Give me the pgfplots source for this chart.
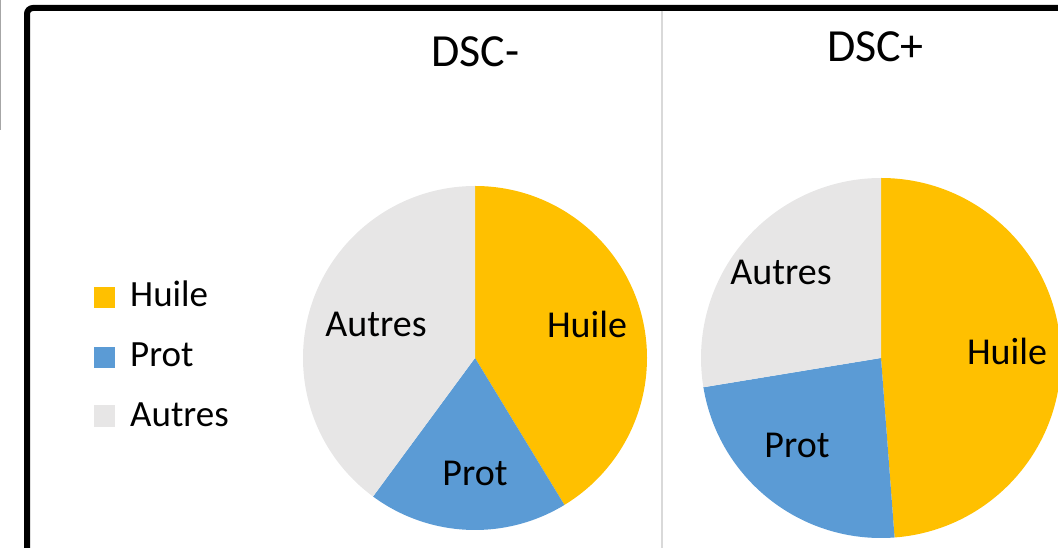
\documentclass[border=0pt]{standalone}
\usepackage{pgfplots}
\pgfplotsset{compat=1.18}
\usepackage{pgfplotstable}
\usepackage{fontspec}
\setmainfont{Carlito}
\definecolor{huile}{HTML}{FFC000}
\definecolor{prot}{HTML}{5B9BD5}
\definecolor{autres}{HTML}{E7E6E6}
\definecolor{divider}{HTML}{D9D9D9}

% DSC- values (percent)
\pgfplotstableread{
cat value
Huile 41.3
Prot 18.8
Autres 39.9
}\dscmoins
% DSC+ values (percent)
\pgfplotstableread{
cat value
Huile 48.8
Prot 23.6
Autres 27.6
}\dscplus

\newcommand{\getv}[3]{\pgfplotstablegetelem{#2}{value}\of#1\let#3\pgfplotsretval}

\begin{document}
\begin{tikzpicture}
\getv{\dscmoins}{0}{\mA}\getv{\dscmoins}{1}{\mB}\getv{\dscmoins}{2}{\mC}
\getv{\dscplus}{0}{\pA}\getv{\dscplus}{1}{\pB}\getv{\dscplus}{2}{\pC}
\pgfmathsetmacro{\mangA}{90-3.6*\mA}
\pgfmathsetmacro{\mangB}{\mangA-3.6*\mB}
\pgfmathsetmacro{\mangC}{\mangB-3.6*\mC}
\pgfmathsetmacro{\pangA}{90-3.6*\pA}
\pgfmathsetmacro{\pangB}{\pangA-3.6*\pB}
\pgfmathsetmacro{\pangC}{\pangB-3.6*\pC}
\useasboundingbox (0,0) rectangle (1058pt,548pt);
\clip (0,0) rectangle (1058pt,548pt);
\begin{axis}[width=1058pt, height=548pt, scale only axis, hide axis,
  xmin=0, xmax=1058, ymin=0, ymax=548, clip=false,
  at={(0,0)}, anchor=south west]
% frame
\draw[black, line width=6pt, rounded corners=6pt] (axis cs:27,-20) -- (axis cs:27,540) -- (axis cs:1120,540);
\draw[gray!70, line width=1.5pt] (axis cs:0.7,548) -- (axis cs:0.7,418);
\draw[divider, line width=2pt] (axis cs:662,537) -- (axis cs:662,-5);
% pie DSC-
\fill[huile] (axis cs:475,190) -- ++(90:172pt) arc[start angle=90, end angle=\mangA, radius=172pt] -- cycle;
\fill[prot] (axis cs:475,190) -- ++(\mangA:172pt) arc[start angle=\mangA, end angle=\mangB, radius=172pt] -- cycle;
\fill[autres] (axis cs:475,190) -- ++(\mangB:172pt) arc[start angle=\mangB, end angle=\mangC, radius=172pt] -- cycle;
% pie DSC+
\fill[huile] (axis cs:881,190) -- ++(90:180pt) arc[start angle=90, end angle=\pangA, radius=180pt] -- cycle;
\fill[prot] (axis cs:881,190) -- ++(\pangA:180pt) arc[start angle=\pangA, end angle=\pangB, radius=180pt] -- cycle;
\fill[autres] (axis cs:881,190) -- ++(\pangB:180pt) arc[start angle=\pangB, end angle=\pangC, radius=180pt] -- cycle;
% titles
\node[anchor=base, font=\fontsize{46}{50}\selectfont] at (axis cs:475.5,481) {DSC-};
\node[anchor=base, font=\fontsize{46}{50}\selectfont] at (axis cs:875.5,486) {DSC+};
% slice labels
\node[anchor=base, font=\fontsize{38}{40}\selectfont] at (axis cs:587,210) {Huile};
\node[anchor=base, font=\fontsize{38}{40}\selectfont] at (axis cs:475,62) {Prot};
\node[anchor=base, font=\fontsize{38}{40}\selectfont] at (axis cs:376,211) {Autres};
\node[anchor=base, font=\fontsize{38}{40}\selectfont] at (axis cs:781,263) {Autres};
\node[anchor=base, font=\fontsize{38}{40}\selectfont] at (axis cs:797,90) {Prot};
\node[anchor=base, font=\fontsize{38}{40}\selectfont] at (axis cs:1007,183) {Huile};
% legend
\fill[huile] (axis cs:94,240) rectangle (axis cs:115,261);
\fill[prot] (axis cs:94,180) rectangle (axis cs:115,201);
\fill[autres] (axis cs:94,121) rectangle (axis cs:115,143);
\node[anchor=base west, inner sep=0pt, font=\fontsize{37}{40}\selectfont] at (axis cs:130,241) {Huile};
\node[anchor=base west, inner sep=0pt, font=\fontsize{37}{40}\selectfont] at (axis cs:130,181) {Prot};
\node[anchor=base west, inner sep=0pt, font=\fontsize{37}{40}\selectfont] at (axis cs:130,121) {Autres};
\end{axis}
\end{tikzpicture}
\end{document}
